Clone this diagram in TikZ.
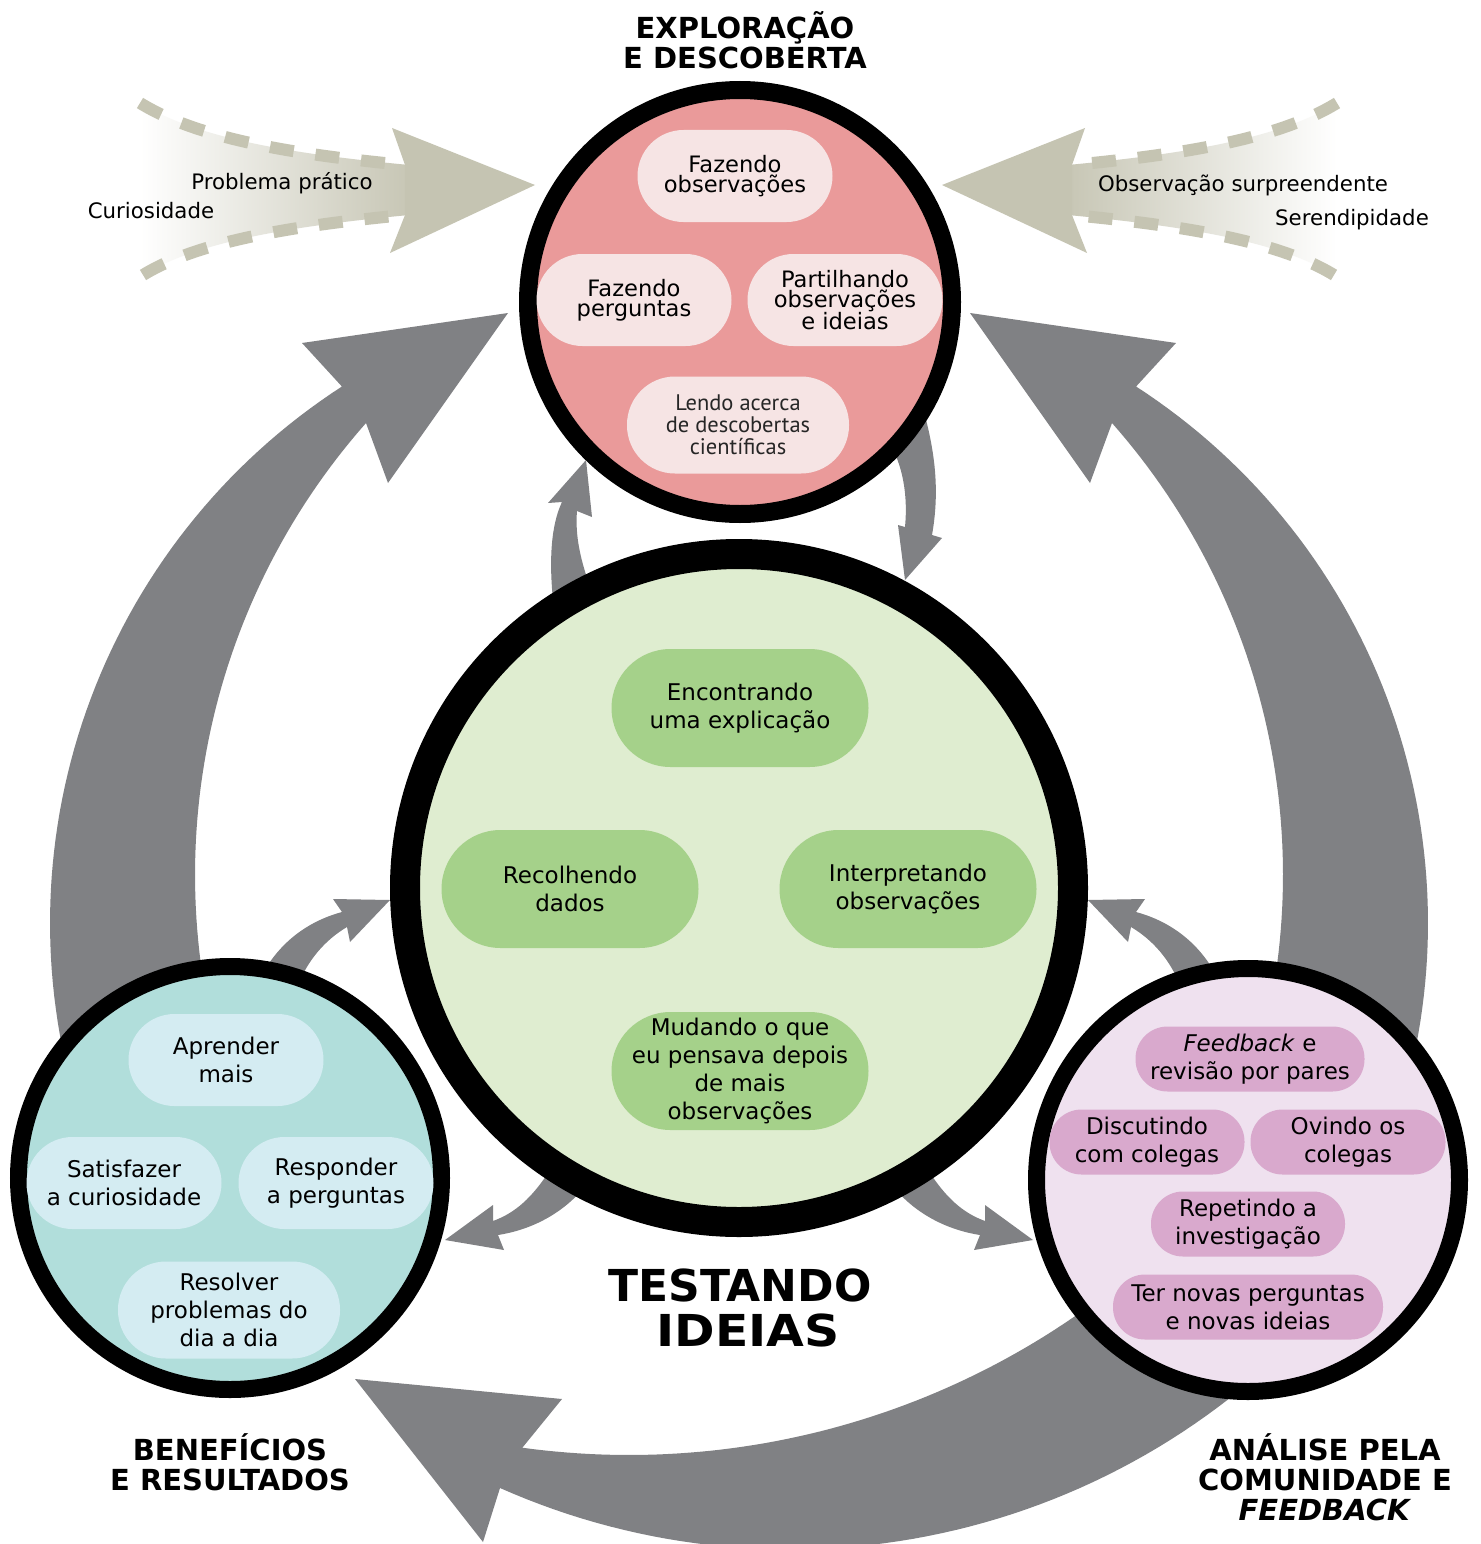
\documentclass[tikz,border=0pt]{standalone}
\usepackage{fontspec}
\setmainfont{DejaVu Sans}
\newfontfamily\ptsans{PT Sans}
\newfontfamily\condfont[FakeStretch=1.0]{DejaVu Sans}
\newfontfamily\condwide[FakeStretch=1.11]{DejaVu Sans}
\definecolor{arrowgray}{HTML}{808184}
\definecolor{tanc}{HTML}{C5C4B2}
\definecolor{redfill}{HTML}{EA9A9A}
\definecolor{redpillc}{HTML}{F6E4E4}
\definecolor{greenfill}{HTML}{DFEDD0}
\definecolor{greenpillc}{HTML}{A5D18A}
\definecolor{bluefill}{HTML}{B1DEDB}
\definecolor{bluepillc}{HTML}{D4ECF2}
\definecolor{purplefill}{HTML}{EFE1EF}
\definecolor{purplepillc}{HTML}{D9A9CD}
\tikzset{
  ring/.style={circle, draw=black, inner sep=0pt, outer sep=0pt},
  pill/.style={rectangle, inner sep=0pt, align=center, text=black, font=\fontsize{23}{28}\selectfont},
  redpill/.style={pill, fill=redpillc, minimum width=195, minimum height=92, rounded corners=46, font=\fontsize{22.6}{20}\selectfont},
  greenpill/.style={pill, fill=greenpillc, minimum width=257, minimum height=118, rounded corners=59},
  bluepill/.style={pill, fill=bluepillc, minimum width=195, minimum height=92, rounded corners=46},
  purplepill/.style={pill, fill=purplepillc, minimum width=195, minimum height=65, rounded corners=32},
  title/.style={align=center, font=\bfseries\fontsize{29}{30}\selectfont},
  bigtitle/.style={inner sep=0pt, text height=32, text depth=0, anchor=center},
  lbl/.style={font=\fontsize{21.3}{24}\selectfont, inner sep=0pt},
  bigarrow/.style={fill=arrowgray},
  smallarrow/.style={fill=arrowgray},
  tandash/.style={draw=tanc, line width=12, dash pattern=on 24 off 22},
}
\begin{document}
\begin{tikzpicture}[x=1pt,y=-1pt]
\useasboundingbox (0,0) rectangle (1480,1544);
\fill[white] (0,0) rectangle (1480,1544);

% ---------- tan incoming arrows ----------
\shade[left color=white, right color=tanc] (140,103) .. controls (200,140) and (300,155) .. (420,166) -- (420,214) .. controls (300,225) and (200,240) .. (143,275) -- cycle;
\fill[tanc] (405,165) -- (392,128) -- (535,185) -- (390,253) -- (405,215) -- cycle;
\draw[tandash] (140,103) .. controls (200,140) and (300,155) .. (405,165);
\draw[tandash] (143,275) .. controls (200,240) and (300,225) .. (405,215);

\shade[left color=tanc, right color=white] (1337,103) .. controls (1277,140) and (1177,155) .. (1057,166) -- (1057,214) .. controls (1177,225) and (1277,240) .. (1334,275) -- cycle;
\fill[tanc] (1072,165) -- (1085,128) -- (942,185) -- (1087,253) -- (1072,215) -- cycle;
\draw[tandash] (1337,103) .. controls (1277,140) and (1177,155) .. (1072,165);
\draw[tandash] (1334,275) .. controls (1277,240) and (1177,225) .. (1072,215);

\node[lbl] (lprob) at (282,183) {Problema prático};
\node[lbl] (lcur) at (151,211) {Curiosidade};
\node[lbl] (lobs) at (1243,185) {Observação surpreendente};
\node[lbl] (lser) at (1352,220) {Serendipidade};

% ---------- big grey arrows ----------
\fill[bigarrow] plot[domain=167.6:237.1, samples=60] ({689+639*cos(\x)},{923+639*sin(\x)})
  -- (302,343) -- (508,313) -- (388,483) -- (366,423)
  -- plot[domain=221.4:166, samples=60] ({878+683*cos(\x)},{875+683*sin(\x)}) -- cycle;
\fill[bigarrow] plot[domain=12.4:-57.1, samples=60] ({789+639*cos(\x)},{923+639*sin(\x)})
  -- (1176,343) -- (970,313) -- (1090,483) -- (1112,423)
  -- plot[domain=-41.4:14, samples=60] ({600+683*cos(\x)},{875+683*sin(\x)}) -- cycle;
\fill[bigarrow] plot[domain=50:97.8, samples=60] ({629+786*cos(\x)},{669+786*sin(\x)})
  -- (562,1399) -- (355,1379) -- (483,1542) -- (500,1488)
  -- plot[domain=113.95:45, samples=60] ({790+714.5*cos(\x)},{835+714.5*sin(\x)}) -- cycle;

% ---------- small grey arrows ----------
\fill[smallarrow] (553,600) .. controls (549,560) and (551,525) .. (562,502) -- (548,503) -- (586,460) -- (592,517) -- (577,511) .. controls (575,535) and (580,560) .. (592,592) -- cycle;
\fill[smallarrow] (888,440) .. controls (903,465) and (908,495) .. (905,527) -- (898,525) -- (905,580) -- (942,538) -- (932,535) .. controls (940,490) and (935,450) .. (922,405) -- cycle;
\fill[smallarrow] (262,975) .. controls (278,945) and (305,922) .. (342,912) -- (333,899) -- (390,900) -- (350,942) -- (347,927) .. controls (325,940) and (308,960) .. (298,985) -- cycle;
\fill[smallarrow] (1216,975) .. controls (1200,945) and (1173,922) .. (1136,912) -- (1145,899) -- (1088,900) -- (1128,942) -- (1131,927) .. controls (1153,940) and (1170,960) .. (1180,985) -- cycle;
\fill[smallarrow] (550,1170) .. controls (532,1198) and (515,1213) .. (493,1221) -- (493,1205) -- (445,1240) -- (504,1250) -- (498,1235) .. controls (530,1230) and (560,1215) .. (582,1190) -- cycle;
\fill[smallarrow] (928,1170) .. controls (946,1198) and (963,1213) .. (985,1221) -- (985,1205) -- (1033,1240) -- (974,1250) -- (980,1235) .. controls (948,1230) and (918,1215) .. (896,1190) -- cycle;

% ---------- circles ----------
\node[ring, fill=redfill, line width=18, minimum size=424] (red) at (740,302) {};
\node[ring, fill=greenfill, line width=30, minimum size=668] (green) at (739,888) {};
\node[ring, fill=bluefill, line width=17, minimum size=423] (blue) at (230,1178) {};
\node[ring, fill=purplefill, line width=17, minimum size=423] (purple) at (1248,1180) {};

% ---------- red pills ----------
\node[redpill] (r1) at (735,176) {Fazendo\\observações};
\node[redpill] (r2) at (634,300) {Fazendo\\perguntas};
\node[redpill] (r3) at (845,300) {Partilhando\\observações\\e ideias};
\node[redpill, minimum width=222, minimum height=97, rounded corners=48, text=black!85, font=\ptsans\fontsize{22.5}{22}\selectfont] (r4) at (738,425) {Lendo acerca\\de descobertas\\científicas};

% ---------- green pills ----------
\node[greenpill] (g1) at (740,708) {Encontrando\\uma explicação};
\node[greenpill] (g2) at (570,889) {Recolhendo\\dados};
\node[greenpill] (g3) at (908,889) {Interpretando\\observações};
\node[greenpill] (g4) at (740,1071) {Mudando o que\\eu pensava depois\\de mais\\observações};

% ---------- blue pills ----------
\node[bluepill] (b1) at (226,1060) {Aprender\\mais};
\node[bluepill] (b2) at (124,1183) {Satisfazer\\a curiosidade};
\node[bluepill] (b3) at (336,1183) {Responder\\a perguntas};
\node[bluepill, minimum width=222, minimum height=97, rounded corners=48] (b4) at (229,1310) {Resolver\\problemas do\\dia a dia};

% ---------- purple pills ----------
\node[purplepill, minimum width=229] (u1) at (1250,1059) {\textit{Feedback} e\\revisão por pares};
\node[purplepill] (u2) at (1147,1142) {Discutindo\\com colegas};
\node[purplepill] (u3) at (1348,1142) {Ovindo os\\colegas};
\node[purplepill, minimum width=194] (u4) at (1248,1224) {Repetindo a\\investigação};
\node[purplepill, minimum width=270] (u5) at (1248,1307) {Ter novas perguntas\\e novas ideias};

% ---------- titles ----------
\node[title] (t1) at (745,40) {EXPLORAÇÃO\\E DESCOBERTA};
\node[title] (t2) at (230,1462) {BENEFÍCIOS\\E RESULTADOS};
\node[title] (t3) at (1325,1477) {ANÁLISE PELA\\COMUNIDADE E\\\textit{FEEDBACK}};
\node[bigtitle, font=\condfont\bfseries\fontsize{44}{45}\selectfont] (t4) at (740,1285) {TESTANDO};
\node[bigtitle, font=\condwide\bfseries\fontsize{44}{45}\selectfont] (t5) at (748,1330) {IDEIAS};
\end{tikzpicture}
\end{document}
